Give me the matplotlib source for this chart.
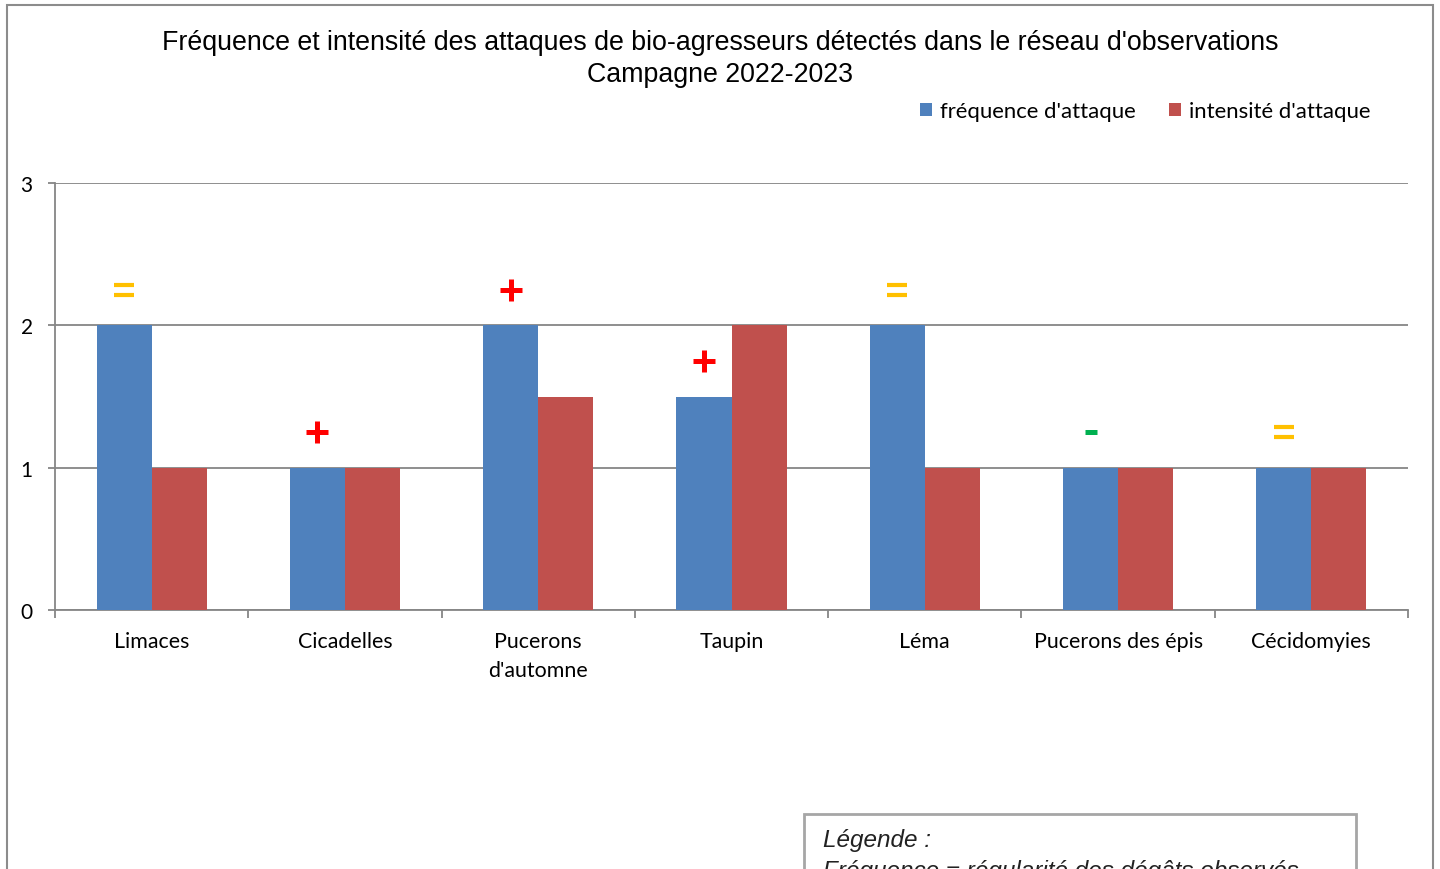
import matplotlib
matplotlib.use("Agg")
import matplotlib.pyplot as plt
import numpy as np
from matplotlib.path import Path
from matplotlib.patches import Rectangle, Patch

categories = ["Limaces", "Cicadelles", "Pucerons\nd'automne", "Taupin", "Léma",
              "Pucerons des épis", "Cécidomyies"]
frequence = [2, 1, 2, 1.5, 2, 1, 1]
intensite = [1, 1, 1.5, 2, 1, 1, 1]
tendance = ["=", "+", "+", "+", "=", "-", "="]
yticks = [0, 1, 2, 3]

title = ("Fréquence et intensité des attaques de bio-agresseurs détectés dans le réseau d'observations\n"
         "Campagne 2022-2023")
series_names = ["fréquence d'attaque", "intensité d'attaque"]

BLUE = "#4F81BD"
RED = "#C0504D"
GRID = "#868686"
sym_color = {"=": "#FFC000", "+": "#FF0000", "-": "#00B050"}

W, H = 1440, 870
fig = plt.figure(figsize=(W / 100, H / 100), dpi=100)
fig.patch.set_facecolor("white")

tick_font = ["Lato", "DejaVu Sans"]
title_font = ["Liberation Sans", "DejaVu Sans"]

ax = fig.add_axes([55 / W, 1 - 611 / H, (1408 - 55) / W, (611 - 184) / H])
x = np.arange(len(categories))
bw = 0.285
ax.bar(x - bw / 2, frequence, width=bw, color=BLUE, zorder=3)
ax.bar(x + bw / 2, intensite, width=bw, color=RED, zorder=3)

# trend markers
eq_path = Path([(-1, 0.45), (1, 0.45), (-1, -0.45), (1, -0.45)],
               [Path.MOVETO, Path.LINETO, Path.MOVETO, Path.LINETO])
for i, s in enumerate(tendance):
    yv = frequence[i] + 0.25
    xv = x[i] - bw / 2
    if s == "=":
        ax.plot([xv], [yv], marker=eq_path, markersize=15, mew=3.0,
                color=sym_color[s], linestyle="none", zorder=4)
    elif s == "+":
        ax.plot([xv], [yv], marker="+", markersize=16, mew=3.6,
                color=sym_color[s], linestyle="none", zorder=4)
    else:
        ax.plot([xv], [yv], marker="_", markersize=9, mew=3.6,
                color=sym_color[s], linestyle="none", zorder=4)

ax.set_xlim(-0.5, len(categories) - 0.5)
ax.set_ylim(0, 3)
ax.set_yticks(yticks)
ax.set_yticklabels([str(v) for v in yticks], fontsize=15, family=tick_font)
ax.yaxis.grid(True, color=GRID, linewidth=1.3, zorder=0)
ax.set_axisbelow(True)
for sp in ["top", "right"]:
    ax.spines[sp].set_visible(False)
for sp in ["left", "bottom"]:
    ax.spines[sp].set_color(GRID)
    ax.spines[sp].set_linewidth(1.3)
ax.tick_params(axis="y", length=5, color=GRID, width=1.3, pad=11)
ax.set_xticks(np.arange(-0.5, len(categories) + 0.5, 1.0))
ax.set_xticklabels([])
ax.tick_params(axis="x", length=6, color=GRID, width=1.3)
ax.set_xticks(x, minor=True)
ax.set_xticklabels(categories, minor=True, fontsize=15.4, family=tick_font,
                   linespacing=1.6)
ax.tick_params(axis="x", which="minor", length=0, pad=15)

fig.text(0.5, 1 - 59 / H, title, ha="center", va="center", fontsize=19.3,
         family=title_font, linespacing=1.33)

handles = [Patch(facecolor=BLUE), Patch(facecolor=RED)]
fig.legend(handles, series_names, loc="center right",
           bbox_to_anchor=(1390 / W, 1 - 112 / H), ncol=2, frameon=False,
           prop={"family": tick_font, "size": 15.9}, handlelength=0.55,
           handleheight=0.55, handletextpad=0.35, columnspacing=1.5)

# outer frame
fig.add_artist(Rectangle((7 / W, -0.05), (1433 - 7) / W, 1 - 6 / H + 0.05,
                         transform=fig.transFigure, fill=False,
                         edgecolor="#8c8c8c", linewidth=1.5))
# bottom legend box
fig.add_artist(Rectangle((804 / W, -0.05), (1356 - 804) / W, 1 - 815 / H + 0.05,
                         transform=fig.transFigure, fill=False,
                         edgecolor="#a6a6a6", linewidth=2))
box_font = ["Liberation Sans Narrow", "Liberation Sans", "DejaVu Sans"]
fig.text(823 / W, 1 - 841 / H, "Légende :", fontsize=17.5, style="italic",
         family=box_font, va="center", ha="left", color="#222222")
fig.text(823 / W, 1 - 872 / H, "Fréquence = régularité des dégâts observés",
         fontsize=17.5, style="italic", family=box_font, va="center", ha="left",
         color="#222222")

fig.savefig("out.png", dpi=100, facecolor="white")
